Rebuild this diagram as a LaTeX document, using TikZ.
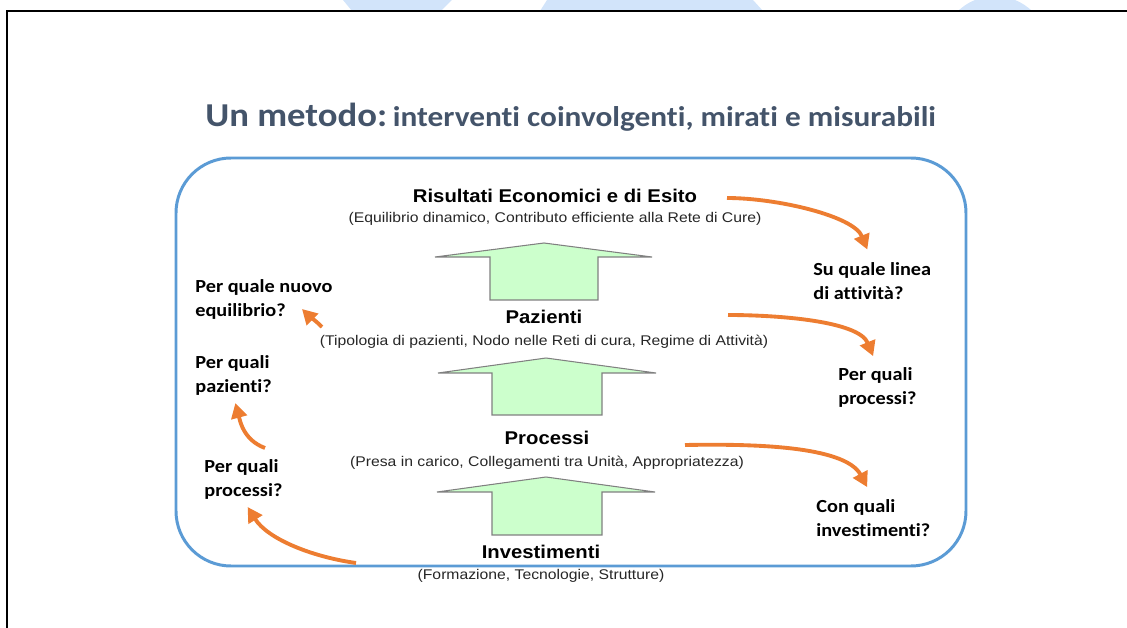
\documentclass[tikz,border=0pt]{standalone}
\usepackage{fontspec}
\setmainfont{Liberation Sans}
\newfontfamily\calibri[Ligatures={NoCommon}]{Carlito}
\usetikzlibrary{arrows.meta}
\definecolor{boxblue}{RGB}{91,155,213}
\definecolor{askorange}{RGB}{237,125,49}
\definecolor{titleslate}{RGB}{68,84,106}
\definecolor{stepgreen}{RGB}{204,255,204}
\definecolor{stepgray}{RGB}{128,128,128}
\definecolor{markblue}{RGB}{210,228,250}

\begin{document}
\begin{tikzpicture}[x=0.02cm,y=0.02cm,
  level/.style={font=\fontsize{10.5}{12}\selectfont\bfseries, xscale=1.1, inner sep=0pt, anchor=base},
  detail/.style={font=\fontsize{8}{10}\selectfont, text=black!85, xscale=1.12, inner sep=0pt, anchor=base},
  question/.style={font=\calibri\bfseries\fontsize{10.5}{14.2}\selectfont, align=left, xscale=1.1, inner sep=0pt, anchor=base west},
  upstep/.style={fill=stepgreen, draw=stepgray, line width=0.6pt, line join=miter},
  ask/.style={draw=askorange, line width=2.2pt, -{Triangle[length=8.5pt,width=9pt]}, askorange}]
\useasboundingbox (0,0) rectangle (1127,-628);

% faint marks above the frame
\fill[markblue] (343,0) -- (452,0) -- (441,-11) -- (352,-11) -- cycle;
\fill[markblue] (547,0) -- (753,0) -- (763,-11) -- (540,-11) -- cycle;
\begin{scope}
\clip (900,0) rectangle (1100,-11);
\fill[markblue] (995,-49.5) circle (53.4);
\end{scope}

% frame
\draw[black, line width=1.7pt] (7,-628) -- (7,-11) -- (1127,-11);

% title
\node[font=\calibri\bfseries, text=titleslate, xscale=1.1, inner sep=0pt, anchor=base west] (title) at (205,-127)
  {{\fontsize{19}{22}\selectfont Un metodo:} {\fontsize{16.2}{20}\selectfont interventi coinvolgenti, mirati e misurabili}};

% box
\draw[boxblue, line width=1.7pt, rounded corners=1.1cm] (176,-158) rectangle (966,-566);

% green steps
\draw[upstep] (435,-257) -- (544,-243) -- (652,-257) -- (598,-257) -- (598,-300) -- (490,-300) -- (490,-257) -- cycle;
\draw[upstep] (438,-373) -- (546,-358) -- (656,-373) -- (602,-373) -- (602,-415) -- (492,-415) -- (492,-373) -- cycle;
\draw[upstep] (437,-492) -- (546,-477) -- (655,-492) -- (602,-492) -- (602,-535) -- (492,-535) -- (492,-492) -- cycle;

% levels
\node[level] (ris) at (555,-203) {Risultati Economici e di Esito};
\node[detail] (ris-d) at (555,-223) {(Equilibrio dinamico, Contributo efficiente alla Rete di Cure)};
\node[level] (paz) at (544,-324) {Pazienti};
\node[detail] (paz-d) at (544,-346) {(Tipologia di pazienti, Nodo nelle Reti di cura, Regime di Attività)};
\node[level] (pro) at (547,-445) {Processi};
\node[detail] (pro-d) at (547,-467) {(Presa in carico, Collegamenti tra Unità, Appropriatezza)};
\node[level] (inv) at (541,-559) {Investimenti};
\node[detail] (inv-d) at (541,-580) {(Formazione, Tecnologie, Strutture)};

% questions (base = last line)
\node[question] (q-linea) at (813,-300) {Su quale linea\\di attività?};
\node[question] (q-proc-r) at (838,-405) {Per quali\\processi?};
\node[question] (q-inv) at (816,-537) {Con quali\\investimenti?};
\node[question] (q-equi) at (195,-317) {Per quale nuovo\\equilibrio?};
\node[question] (q-paz) at (195,-393) {Per quali\\pazienti?};
\node[question] (q-proc-l) at (204,-497) {Per quali\\processi?};

% arrow ends
\coordinate (s-ris) at (727,-198);
\coordinate (s-paz) at (728,-315);
\coordinate (s-pro) at (685,-445);
\coordinate (s-inv) at (356,-563);
\coordinate (s-procl) at (265,-448);
\coordinate (s-pazd) at (322,-327);
\coordinate (t-equi) at (302,-309);

% orange connectors
\draw[ask, shorten >=7.5pt] (s-ris) to[out=0, in=112, looseness=0.8] (q-linea.north);
\draw[ask, shorten >=6.5pt] (s-paz) to[out=0, in=112, looseness=0.8] (q-proc-r.north);
\draw[ask, shorten >=7.5pt] (s-pro) to[out=1, in=118, looseness=0.8] (q-inv.north);
\draw[ask, shorten >=4.5pt] (s-inv) to[out=172, in=-58, looseness=0.9] (q-proc-l.south);
\draw[ask, shorten >=4pt] (s-procl) to[out=160, in=-75] (q-paz.south);
\draw[ask] (s-pazd) to[out=135, in=-45] (t-equi);
\end{tikzpicture}
\end{document}
